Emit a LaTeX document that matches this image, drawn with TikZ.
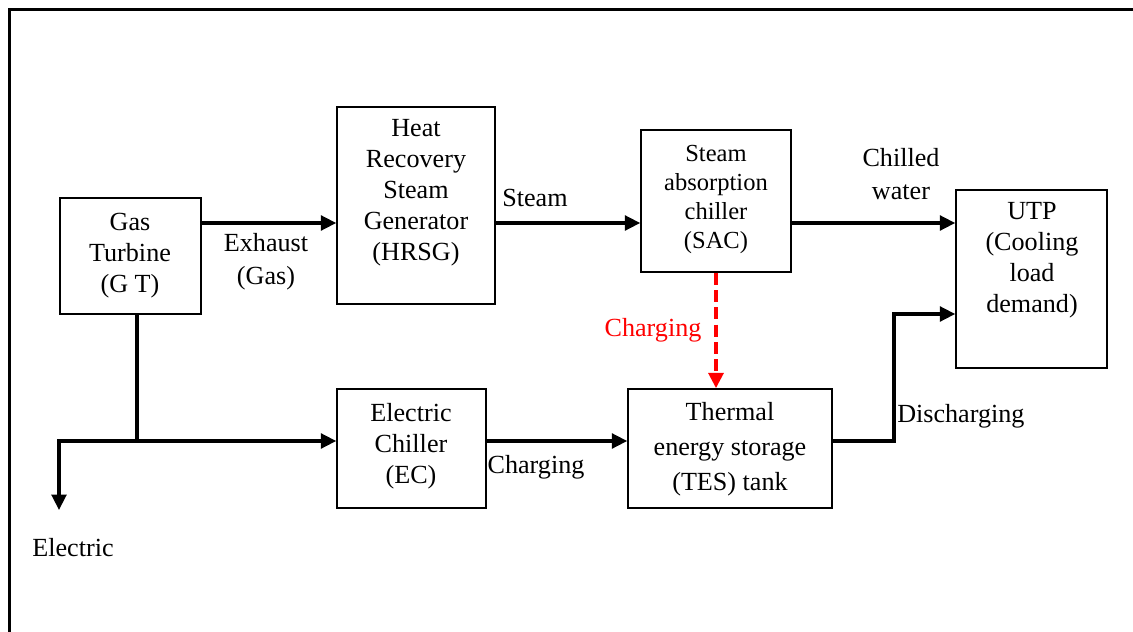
\documentclass[tikz,border=0pt]{standalone}
\usepackage{fontspec}
\setmainfont{Liberation Serif}
\usetikzlibrary{fit,arrows.meta}
\begin{document}
\begin{tikzpicture}[x=0.75pt,y=-0.75pt,
  box/.style={draw=black,line width=1.1pt,inner sep=0pt,fit={#1}},
  txt/.style={align=center,inner sep=0pt,font=\fontsize{19.6}{23.25}\selectfont},
  arr/.style={line width=2.4pt,-{Triangle[length=11.5pt,width=11pt]}},
  conn/.style={line width=2.4pt}]
\useasboundingbox (0,0) rectangle (1133,632);
\draw[line width=2.4pt] (9.5,660) -- (9.5,9.5) -- (1160,9.5);
% boxes
\node[box={(60,198) (201,314)}] (gt) {};
\node[box={(337,107) (495,304)}] (hrsg) {};
\node[box={(641,130) (791,272)}] (sac) {};
\node[box={(956,190) (1107,368)}] (utp) {};
\node[box={(337,389) (486,508)}] (ec) {};
\node[box={(628,389) (832,508)}] (tes) {};
% texts
\node[txt] (tgt) at (130,256) {Gas\\Turbine\\(G T)};
\node[txt] (thrsg) at (416,193) {Heat\\Recovery\\Steam\\Generator\\(HRSG)};
\node[txt,font=\fontsize{18.4}{21.75}\selectfont] (tsac) at (716,199) {Steam\\absorption\\chiller\\(SAC)};
\node[txt] (tutp) at (1032,260) {UTP\\(Cooling\\load\\demand)};
\node[txt] (tec) at (411,446) {Electric\\Chiller\\(EC)};
\node[txt,font=\fontsize{19.6}{26.25}\selectfont] (ttes) at (730,449) {Thermal\\energy storage\\(TES) tank};
% labels
\node[txt,font=\fontsize{19.6}{24.75}\selectfont] (lex) at (266,262) {Exhaust\\(Gas)};
\node[txt] (lst) at (535,198) {Steam};
\node[txt,font=\fontsize{19.6}{24.75}\selectfont] (lcw) at (901,174) {Chilled\\water};
\node[txt,text=red] (lch1) at (653,330) {Charging};
\node[txt] (lch2) at (536,467) {Charging};
\node[txt,anchor=west] (ldis) at (897,416) {Discharging};
\node[txt] (lel) at (73,548) {Electric};
% coordinates
\coordinate (ytop) at (0,223);
\coordinate (jn) at (137,441);
\coordinate (el) at (59,510);
\coordinate (yd) at (894,314);
% connectors
\draw[arr] (gt.east |- ytop) -- (hrsg.west |- ytop);
\draw[arr] (hrsg.east |- ytop) -- (sac.west |- ytop);
\draw[arr] (sac.east |- ytop) -- (utp.west |- ytop);
\draw[red,line width=3pt,dash pattern=on 9pt off 4pt,-{Triangle[length=11.5pt,width=11pt]}] (sac.south) -- (sac.south |- tes.north);
\draw[conn] (gt.south -| jn) -- (jn);
\draw[arr] (jn) -| (el);
\draw[arr] (jn) -- (ec.west |- jn);
\draw[arr] (ec.east |- jn) -- (tes.west |- jn);
\draw[arr] (tes.east |- jn) -| (yd) -- (utp.west |- yd);
\end{tikzpicture}
\end{document}
